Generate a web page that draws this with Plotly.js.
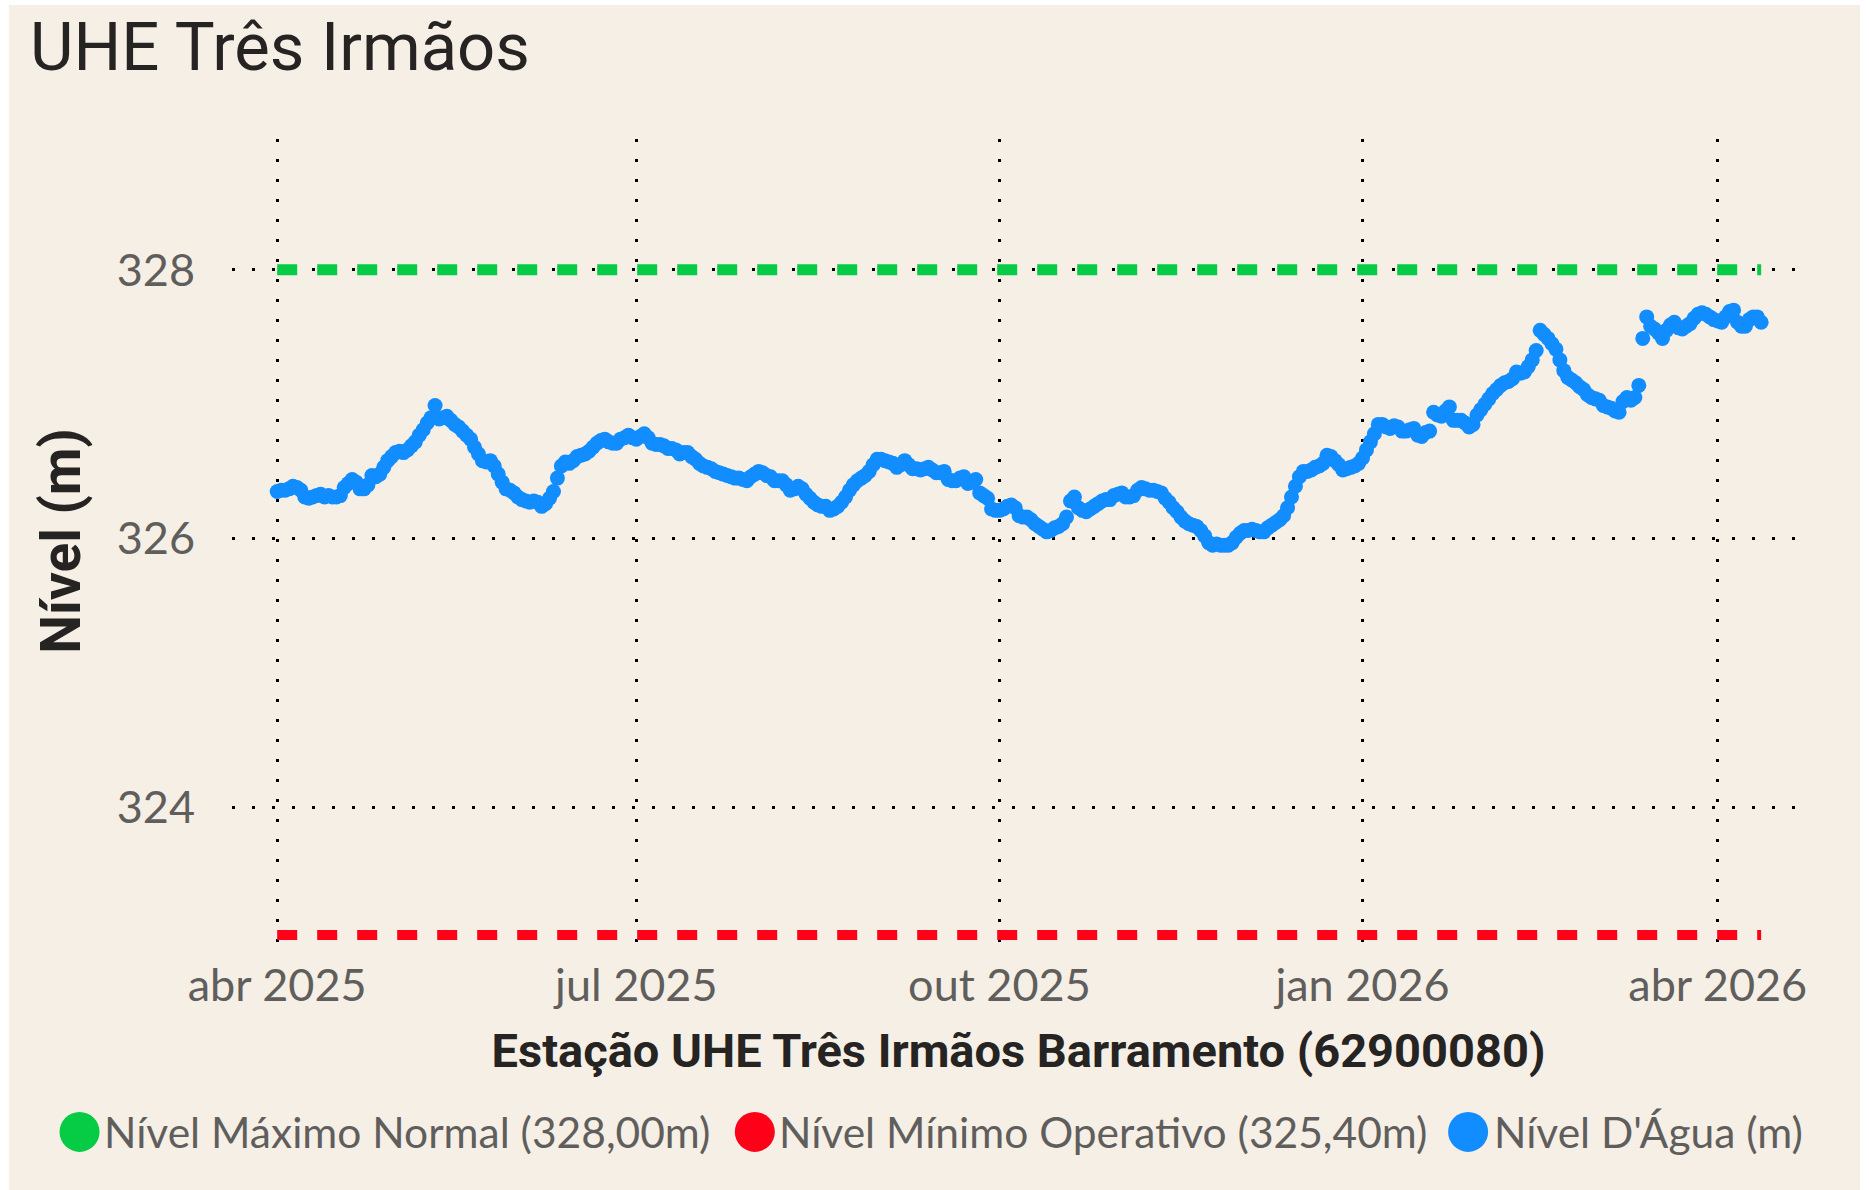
<!DOCTYPE html>
<html>
<head>
<meta charset="utf-8">
<script src="https://cdn.plot.ly/plotly-3.0.1.min.js"></script>
<style>
  html, body { margin: 0; padding: 0; background: #ffffff; width: 1869px; height: 1190px; overflow: hidden; }
  #chart { position: absolute; left: 9px; top: 5px; width: 1851px; height: 1185px; }
  text { font-variant-ligatures: none; }
</style>
</head>
<body>
<div id="chart"></div>
<script>
// ---- data ----
const chartTitle = 'UHE Três Irmãos';
const xAxisTitle = 'Estação UHE Três Irmãos Barramento (62900080)';
const yAxisTitle = 'Nível (m)';
const seriesNames = ['Nível Máximo Normal (328,00m)', 'Nível Mínimo Operativo (325,40m)', "Nível D'Água (m)"];

const firstDay = '2025-04-01';   // first daily reading
const lastDay = '2026-04-12';    // last daily reading

// daily water level (m), one value per day starting at firstDay
const waterLevel = [
  326.35, 326.36, 326.36, 326.37, 326.39, 326.38, 326.36, 326.31, 326.30, 326.31,
  326.32, 326.33, 326.31, 326.32, 326.31, 326.31, 326.32, 326.38, 326.41, 326.44,
  326.42, 326.37, 326.37, 326.40, 326.47, 326.46, 326.48, 326.53, 326.58, 326.61,
  326.64, 326.65, 326.64, 326.66, 326.69, 326.72, 326.77, 326.81, 326.86, 326.90,
  326.99, 326.89, 326.90, 326.91, 326.88, 326.85, 326.83, 326.80, 326.77, 326.74,
  326.68, 326.63, 326.58, 326.57, 326.58, 326.54, 326.48, 326.42, 326.37, 326.36,
  326.34, 326.31, 326.29, 326.28, 326.27, 326.28, 326.27, 326.24, 326.26, 326.30,
  326.35, 326.45, 326.54, 326.57, 326.56, 326.58, 326.61, 326.62, 326.63, 326.65,
  326.68, 326.71, 326.73, 326.74, 326.72, 326.71, 326.71, 326.74, 326.75, 326.77,
  326.75, 326.74, 326.76, 326.78, 326.75, 326.71, 326.70, 326.70, 326.69, 326.67,
  326.67, 326.66, 326.63, 326.64, 326.64, 326.61, 326.59, 326.56, 326.54, 326.53,
  326.52, 326.50, 326.49, 326.48, 326.47, 326.46, 326.45, 326.45, 326.44, 326.43,
  326.46, 326.48, 326.50, 326.49, 326.47, 326.46, 326.43, 326.43, 326.43, 326.40,
  326.36, 326.37, 326.39, 326.37, 326.33, 326.30, 326.27, 326.25, 326.24, 326.24,
  326.21, 326.22, 326.24, 326.27, 326.31, 326.36, 326.40, 326.43, 326.45, 326.47,
  326.50, 326.55, 326.59, 326.59, 326.58, 326.57, 326.56, 326.53, 326.55, 326.58,
  326.55, 326.52, 326.52, 326.51, 326.52, 326.53, 326.51, 326.49, 326.49, 326.50,
  326.44, 326.43, 326.43, 326.45, 326.46, 326.41, 326.42, 326.44, 326.34, 326.32,
  326.30, 326.22, 326.21, 326.21, 326.22, 326.24, 326.25, 326.23, 326.17, 326.16,
  326.16, 326.14, 326.11, 326.09, 326.07, 326.05, 326.06, 326.08, 326.09, 326.11,
  326.16, 326.28, 326.31, 326.23, 326.21, 326.20, 326.22, 326.24, 326.26, 326.28,
  326.29, 326.29, 326.32, 326.33, 326.34, 326.31, 326.31, 326.32, 326.36, 326.38,
  326.37, 326.36, 326.36, 326.35, 326.34, 326.30, 326.27, 326.23, 326.20, 326.16,
  326.13, 326.11, 326.10, 326.09, 326.06, 326.02, 325.97, 325.95, 325.96, 325.95,
  325.95, 325.95, 325.97, 326.01, 326.04, 326.06, 326.06, 326.07, 326.06, 326.05,
  326.05, 326.08, 326.10, 326.12, 326.14, 326.17, 326.23, 326.31, 326.39, 326.46,
  326.50, 326.50, 326.51, 326.53, 326.54, 326.56, 326.62, 326.61, 326.58, 326.55,
  326.51, 326.52, 326.53, 326.54, 326.56, 326.60, 326.66, 326.72, 326.78, 326.85,
  326.85, 326.83, 326.82, 326.84, 326.83, 326.80, 326.80, 326.81, 326.82, 326.77,
  326.76, 326.79, 326.80, 326.94, 326.92, 326.91, 326.95, 326.98, 326.88, 326.88,
  326.88, 326.86, 326.83, 326.85, 326.92, 326.96, 327.00, 327.04, 327.08, 327.11,
  327.14, 327.16, 327.17, 327.19, 327.24, 327.23, 327.24, 327.28, 327.33, 327.40,
  327.55, 327.52, 327.49, 327.45, 327.41, 327.33, 327.25, 327.20, 327.18, 327.16,
  327.13, 327.11, 327.07, 327.05, 327.04, 327.03, 326.99, 326.98, 326.97, 326.95,
  326.94, 327.02, 327.05, 327.03, 327.05, 327.14, 327.49, 327.65, 327.58, 327.56,
  327.53, 327.49, 327.55, 327.59, 327.61, 327.57, 327.56, 327.58, 327.60, 327.64,
  327.67, 327.68, 327.67, 327.65, 327.63, 327.62, 327.61, 327.65, 327.69, 327.70,
  327.61, 327.58, 327.58, 327.63, 327.65, 327.65, 327.61
];

// reference levels as drawn (start and end of the period)
const maxNormalLevel = [328.00, 328.00];
const minOperLevel = [323.05, 323.05];

// axis ticks
const xTickDates = ['2025-04-01', '2025-07-01', '2025-10-01', '2026-01-01', '2026-04-01'];
const xTickLabels = ['abr 2025', 'jul 2025', 'out 2025', 'jan 2026', 'abr 2026'];
const yTickValues = [324, 326, 328];
const yTickLabels = ['324', '326', '328'];

// ---- build dates ----
function addDays(iso, n) {
  const d = new Date(iso + 'T00:00:00Z');
  d.setUTCDate(d.getUTCDate() + n);
  return d.toISOString().slice(0, 10);
}
const waterDates = waterLevel.map((_, i) => addDays(firstDay, i));

// ---- style ----
const BG = '#F6EFE5';
const BLUE = '#118DFF';
const GREEN = '#05CB45';
const RED = '#FF0019';
const TICK_GRAY = '#605E5C';
const DARK = '#252423';
const W = 1851, H = 1185;
const M = { l: 222.5, r: 55, t: 133.5, b: 247 };
const plotW = W - M.l - M.r, plotH = H - M.t - M.b;
const px2x = px => (px - M.l) / plotW;
const px2y = py => (H - M.b - py) / plotH;

const traces = [
  {
    x: [firstDay, lastDay], y: maxNormalLevel, name: seriesNames[0],
    type: 'scatter', mode: 'lines', showlegend: false, hoverinfo: 'skip',
    line: { color: GREEN, width: 11, dash: '20px,20px' }
  },
  {
    x: [firstDay, lastDay], y: minOperLevel, name: seriesNames[1],
    type: 'scatter', mode: 'lines', showlegend: false, hoverinfo: 'skip',
    line: { color: RED, width: 10, dash: '20px,20px' }
  },
  {
    x: waterDates, y: waterLevel, name: seriesNames[2],
    type: 'scatter', mode: 'markers', showlegend: false,
    marker: { color: BLUE, size: 15, line: { width: 0 } }
  }
];

// custom legend (large round swatches)
const legendColors = [GREEN, RED, BLUE];
const legendDotX = [70, 745.5, 1459];
const legendTextX = [92, 768, 1483];
const legendY = 1127;
const shapes = legendColors.map((c, i) => ({
  type: 'circle', xref: 'paper', yref: 'paper',
  xsizemode: 'pixel', ysizemode: 'pixel',
  xanchor: px2x(legendDotX[i]), yanchor: px2y(legendY),
  x0: -20, x1: 20, y0: -20, y1: 20,
  fillcolor: c, line: { width: 0 }
}));
const annotations = seriesNames.map((s, i) => ({
  text: s, xref: 'paper', yref: 'paper',
  x: px2x(legendTextX[i]), y: px2y(legendY),
  xanchor: 'left', yanchor: 'middle', showarrow: false,
  font: { family: 'Lato, "Open Sans", sans-serif', size: 42.5, color: TICK_GRAY }
}));

const layout = {
  width: W, height: H,
  paper_bgcolor: BG, plot_bgcolor: BG,
  margin: M,
  showlegend: false,
  title: {
    text: chartTitle, xref: 'container', yref: 'container',
    x: 21 / W, xanchor: 'left', y: 1 - 18 / H, yanchor: 'top',
    font: { family: 'Roboto, "DejaVu Sans", sans-serif', size: 67, color: DARK }
  },
  xaxis: {
    type: 'date',
    range: ['2025-03-20 13:12', '2026-04-23 02:38'],
    tickmode: 'array', tickvals: xTickDates, ticktext: xTickLabels,
    showgrid: true, gridcolor: '#000000', gridwidth: 3, griddash: '3px,17px',
    zeroline: false, showline: false, ticks: '',
    ticklabelstandoff: 12,
    tickfont: { family: 'Lato, "Open Sans", sans-serif', size: 45, color: TICK_GRAY },
    automargin: false,
    title: {
      text: xAxisTitle, standoff: 24,
      font: { family: 'Roboto, "DejaVu Sans", sans-serif', size: 47, color: DARK, weight: 'bold' }
    }
  },
  yaxis: {
    range: [322.99, 328.974],
    tickmode: 'array', tickvals: yTickValues, ticktext: yTickLabels,
    showgrid: true, gridcolor: '#000000', gridwidth: 3, griddash: '3px,17px',
    zeroline: false, showline: false, ticks: '',
    ticklabelstandoff: 36,
    tickfont: { family: 'Lato, "Open Sans", sans-serif', size: 45, color: TICK_GRAY },
    automargin: false,
    title: {
      text: yAxisTitle, standoff: 18,
      font: { family: 'Roboto, "DejaVu Sans", sans-serif', size: 55, color: DARK, weight: 'bold' }
    }
  },
  shapes: shapes,
  annotations: annotations
};

Plotly.newPlot('chart', traces, layout, { displayModeBar: false, staticPlot: true });
</script>
</body>
</html>
